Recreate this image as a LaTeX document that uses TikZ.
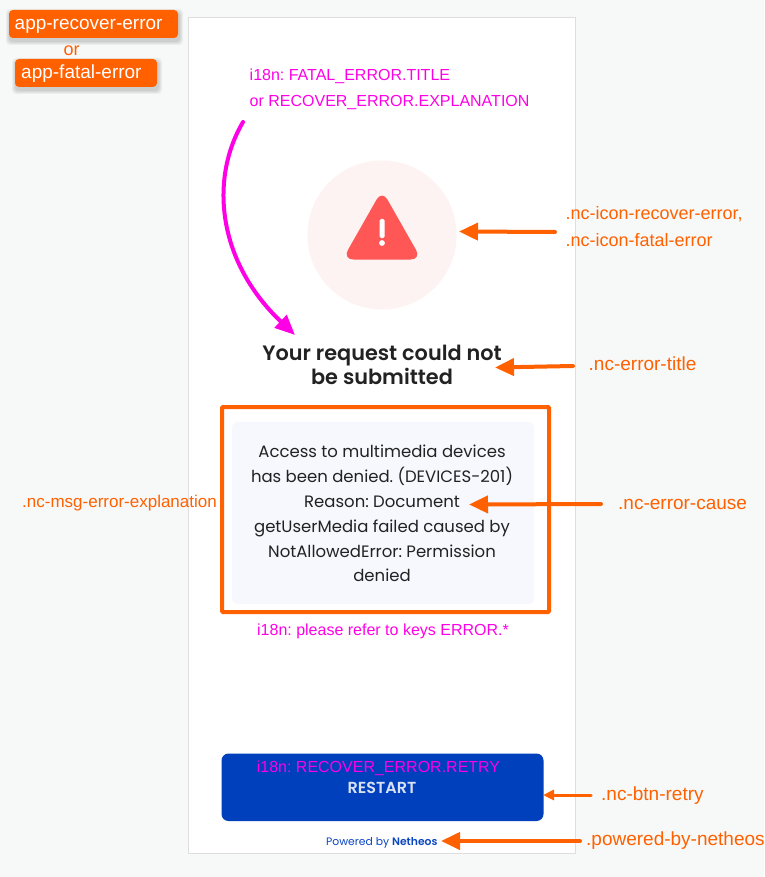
\documentclass[tikz,border=0pt]{standalone}
\usepackage{fontspec}
\setmainfont{Liberation Sans}
\newfontfamily\qsfont[BoldFont={Poppins SemiBold}]{Poppins}
\usetikzlibrary{arrows.meta}
\definecolor{orng}{HTML}{FF6000}
\definecolor{magn}{HTML}{FF00E6}
\definecolor{pagebg}{HTML}{F7F9F8}
\definecolor{cardline}{HTML}{DEDEDE}
\definecolor{ink}{HTML}{222222}
\definecolor{btnblue}{HTML}{0040BD}
\definecolor{linkblue}{HTML}{0A46C2}
\definecolor{circlebg}{HTML}{FDF3F2}
\definecolor{alertred}{HTML}{FF5656}
\definecolor{msgbg}{HTML}{F7F8FD}
\tikzset{
  x=1pt,y=-1pt,
  lbl/.style={anchor=base west,inner sep=0pt,font=\frenchspacing\fontsize{18}{18}\selectfont,text=orng},
  i18n/.style={anchor=base west,inner sep=0pt,font=\frenchspacing\fontsize{16}{16}\selectfont,text=magn},
  badge/.style={anchor=base west,inner sep=0pt,font=\fontsize{19}{19}\selectfont,text=white},
  msg/.style={anchor=base,inner sep=0pt,font=\frenchspacing\fontsize{16.5}{16.5}\qsfont\selectfont,text=ink},
  ttl/.style={anchor=base,inner sep=0pt,font=\fontsize{20.8}{20.8}\qsfont\selectfont\bfseries,text=ink},
  ptr/.style={draw=orng,line width=4pt,line cap=round,-{Triangle[length=19pt,width=17pt]}},
  ptrs/.style={draw=orng,line width=3pt,line cap=round,-{Triangle[length=11pt,width=10pt]}},
  mgptr/.style={draw=magn,line width=4pt,line cap=round,-{Triangle[length=20pt,width=17pt]}},
}
\newcommand{\softshadow}[4]{%
  \foreach \g in {4,3,2,1}{\fill[black,opacity=0.045,rounded corners=4pt] (#1-\g+1,#2-\g+3) rectangle (#3+\g+1,#4+\g+3);}}
\begin{document}
\begin{tikzpicture}
\useasboundingbox (0,0) rectangle (764,877);
\fill[pagebg] (0,0) rectangle (764,877);
% card
\draw[cardline,fill=white,line width=1pt] (188.5,17.5) rectangle (575.5,853.5);
% badges
\softshadow{9}{10}{178}{38}
\softshadow{15}{59}{157}{87}
\fill[orng,rounded corners=4pt] (9,10) rectangle (178,38);
\fill[orng,rounded corners=4pt] (15,59) rectangle (157,87);
\node[badge] (b1) at (14.5,29.5) {app-recover-error};
\node[badge] (b2) at (21,78.5) {app-fatal-error};
\node[lbl] (orlab) at (63.5,55.5) {or};
% i18n top
\node[i18n] (t1) at (249.5,81) {i18n: FATAL\_ERROR.TITLE};
\node[i18n] (t2) at (249.5,106.5) {or RECOVER\_ERROR.EXPLANATION};
% icon
\fill[circlebg] (382,235) circle (74.5);
\fill[alertred,rounded corners=11pt] (382,190) -- (421.5,259.5) -- (342.5,259.5) -- cycle;
\fill[white,rounded corners=1.5pt] (379.6,219) rectangle (384.6,238);
\fill[white] (382,243) circle (2.9);
% title
\node[ttl] (title1) at (382,360.5) {Your request could not};
\node[ttl] (title2) at (382,384.5) {be submitted};
% error box
\draw[orng,line width=4pt,rounded corners=1pt] (222,407) rectangle (549,612);
\fill[msgbg,rounded corners=6pt] (232,422) rectangle (534,604);
\node[msg] (m1) at (382,457.5) {Access to multimedia devices};
\node[msg] (m2) at (382,482.5) {has been denied. (DEVICES-201)};
\node[msg] (m3) at (382,507.5) {Reason: Document};
\node[msg] (m4) at (382,532.5) {getUserMedia failed caused by};
\node[msg] (m5) at (382,557.5) {NotAllowedError: Permission};
\node[msg] (m6) at (382,581.5) {denied};
\node[i18n,anchor=base] (keys) at (383,635) {i18n: please refer to keys ERROR.*};
% button
\fill[btnblue,rounded corners=7pt] (221.5,753.5) rectangle (543.5,821);
\node[i18n,anchor=base,text=magn] (retry) at (378.5,772) {i18n: RECOVER\_ERROR.RETRY};
\node[anchor=base,inner sep=0pt,font=\fontsize{16}{16}\qsfont\selectfont\bfseries,text=white!85!btnblue] (restart) at (382,793) {RESTART};
% powered
\node[anchor=base west,inner sep=0pt,font=\fontsize{10.8}{10.8}\qsfont\selectfont,text=linkblue] (pow) at (326,845) {Powered by \textbf{Netheos}};
% labels
\node[lbl] (l1) at (565.5,219) {.nc-icon-recover-error,};
\node[lbl] (l2) at (565.5,246) {.nc-icon-fatal-error};
\node[lbl,font=\fontsize{19}{19}\selectfont] (l3) at (588.5,370) {.nc-error-title};
\node[lbl,font=\fontsize{19}{19}\selectfont] (l4) at (618,509) {.nc-error-cause};
\node[lbl,font=\fontsize{17}{17}\selectfont] (l5) at (22,507) {.nc-msg-error-explanation};
\node[lbl,font=\fontsize{19}{19}\selectfont] (l6) at (601,800) {.nc-btn-retry};
\node[lbl,font=\fontsize{19}{19}\selectfont] (l7) at (586,845) {.powered-by-netheos};
% connectors
\coordinate (a1s) at (555,232); \coordinate (a1e) at (459,231.5);
\coordinate (a2s) at (573,366); \coordinate (a2e) at (495,367.5);
\coordinate (a3s) at (601,504); \coordinate (a3e) at (469,504.5);
\coordinate (a4s) at (591,795); \coordinate (a4e) at (543,795);
\coordinate (a5s) at (580,841); \coordinate (a5e) at (441,841);
\coordinate (ms) at (243,122); \coordinate (me) at (295,335);
\draw[ptr] (a1s) -- (a1e);
\draw[ptr] (a2s) -- (a2e);
\draw[ptr] (a3s) -- (a3e);
\draw[ptrs] (a4s) -- (a4e);
\draw[ptr] (a5s) -- (a5e);
\draw[mgptr] (ms) .. controls (209,180) and (218,262) .. (me);
\end{tikzpicture}
\end{document}
